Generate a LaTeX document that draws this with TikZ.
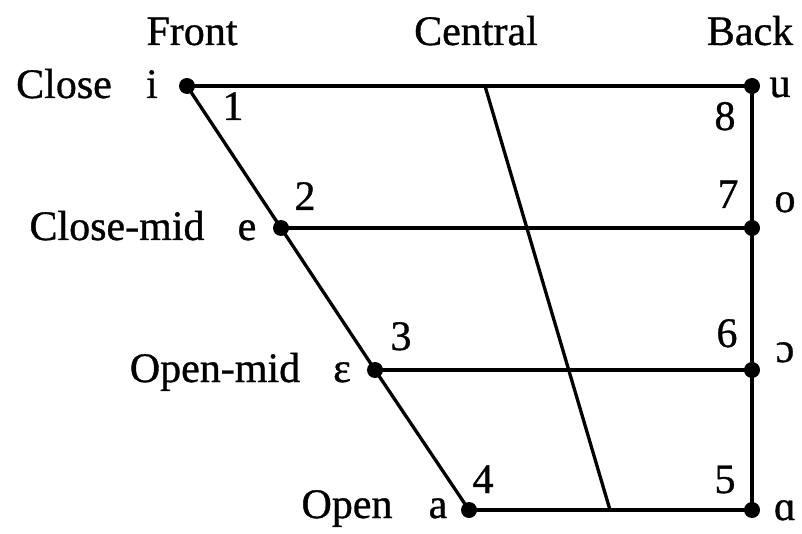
\documentclass[tikz,border=0pt]{standalone}
\usepackage{fontspec}
\setmainfont{Liberation Serif}[FakeBold=0.8]
\begin{document}
\begin{tikzpicture}[x=1pt,y=-1pt,
  dot/.style={circle,fill=black,inner sep=0pt,minimum size=16pt},
  lbl/.style={anchor=base,inner sep=0pt,font=\fontsize{42}{48}\selectfont},
  edge/.style={line width=3.3pt}]
\useasboundingbox (0,0) rectangle (802,534);
% vowel points
\node[dot] (i) at (187,86) {};
\node[dot] (u) at (752,86) {};
\node[dot] (e) at (281,228) {};
\node[dot] (o) at (752,228) {};
\node[dot] (E) at (375,370) {};
\node[dot] (O) at (752,370) {};
\node[dot] (a) at (469,510) {};
\node[dot] (A) at (752,510) {};
\coordinate (ct) at (485,86);
\coordinate (cb) at (610,510);
% lines
\draw[edge] (i.center) -- (u.center);
\draw[edge] (e.center) -- (o.center);
\draw[edge] (E.center) -- (O.center);
\draw[edge] (a.center) -- (A.center);
\draw[edge] (i.center) -- (e.center) -- (E.center) -- (a.center);
\draw[edge] (u.center) -- (o.center) -- (O.center) -- (A.center);
\draw[edge] (ct) -- (cb);
% headings
\node[lbl] (front) at (192,45) {Front};
\node[lbl] (central) at (476,45) {Central};
\node[lbl] (back) at (750,45) {Back};
% row labels
\node[lbl] (close) at (64,98) {Close};
\node[lbl] (closemid) at (117,240) {Close-mid};
\node[lbl] (openmid) at (215,382) {Open-mid};
\node[lbl] (open) at (347,518) {Open};
% symbols
\node[lbl] (si) at (152,98) {i};
\node[lbl] (se) at (247,240) {e};
\node[lbl] (sE) at (342,382) {ɛ};
\node[lbl] (sa) at (438,518) {a};
\node[lbl] (su) at (780,97) {u};
\node[lbl] (so) at (785,212) {o};
\node[lbl] (sO) at (785,362) {ɔ};
\node[lbl] (sA) at (785,520) {ɑ};
% numbers
\node[lbl] (n1) at (233,120) {1};
\node[lbl] (n2) at (305,210) {2};
\node[lbl] (n3) at (401,350) {3};
\node[lbl] (n4) at (483,493) {4};
\node[lbl] (n5) at (725,493) {5};
\node[lbl] (n6) at (727,347) {6};
\node[lbl] (n7) at (728,208) {7};
\node[lbl] (n8) at (725,130) {8};
\end{tikzpicture}
\end{document}
